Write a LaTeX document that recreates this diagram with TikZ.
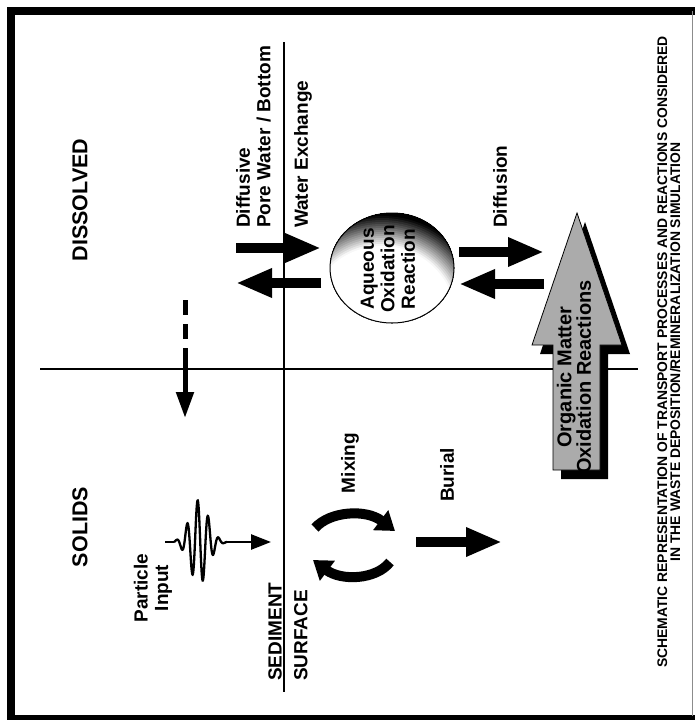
\documentclass[tikz,border=0pt]{standalone}
\usepackage{fontspec}
\newfontfamily\hv{Liberation Sans}
\usetikzlibrary{arrows.meta}
\begin{document}
\begin{tikzpicture}[x=1pt,y=-1pt,
  lbl/.style={font=\hv\bfseries\fontsize{19}{20.5}\selectfont, inner sep=0pt, rotate=90},
  biglbl/.style={font=\hv\bfseries\fontsize{21.5}{22}\selectfont, inner sep=0pt, rotate=90},
  captiontext/.style={font=\hv\bfseries\fontsize{13.9}{13}\selectfont, inner sep=0pt, rotate=90, align=center},
  fat/.style={line width=10pt, -{Triangle[length=36pt,width=27pt]}},
  rule/.style={line width=2.6pt}]
\useasboundingbox (0,0) rectangle (695,720);
\fill[white] (0,0) rectangle (695,720);
% frame
\draw[line width=8pt] (11,720) -- (11,11) -- (695,11);
\draw[line width=5pt] (11,717.5) -- (695,717.5);
\draw[line width=0.8pt, black!45] (692,11) -- (692,716);

% axes
\coordinate (vt) at (284,42); \coordinate (vb) at (284,692);
\coordinate (hl) at (40,369); \coordinate (hr) at (638,369);
\draw[rule] (vt) -- (vb);
\draw[rule] (hl) -- (hr);

% big arrow (organic matter)
\fill[black, shift={(8,9)}] (577,213) -- (622,345) -- (600,345) -- (600,470) -- (553,470) -- (553,345) -- (532,345) -- cycle;
\filldraw[fill=black!33, draw=black, line width=0.8pt] (577,213) -- (622,345) -- (600,345) -- (600,470) -- (553,470) -- (553,345) -- (532,345) -- cycle;

% sphere
\begin{scope}
\clip (392,268) ellipse [x radius=62pt, y radius=55pt];
\fill[white] (392,268) ellipse [x radius=62pt, y radius=55pt];
\foreach \i in {0,...,45}{
  \pgfmathsetmacro\rr{160-2*\i}
  \pgfmathsetmacro\cc{max(0,min(100,(\rr-75)*3.3))}
  \fill[black!\cc] (382,320) circle (\rr pt);
}
\end{scope}
\draw[line width=1pt] (392,268) ellipse [x radius=62pt, y radius=55pt];
\node[lbl, align=center] (aq) at (388,269) {Aqueous\\Oxidation\\Reaction};

% pore water arrows
\coordinate (p1s) at (236,248); \coordinate (p1e) at (321,248);
\coordinate (p2s) at (321,283); \coordinate (p2e) at (236,283);
\draw[fat] (p1s) -- (p1e);
\draw[fat] (p2s) -- (p2e);

% diffusion arrows
\coordinate (d1s) at (459,252); \coordinate (d1e) at (544,252);
\coordinate (d2s) at (544,284); \coordinate (d2e) at (459,284);
\draw[fat] (d1s) -- (d1e);
\draw[fat] (d2s) -- (d2e);

% burial arrow
\coordinate (b1) at (416,542); \coordinate (b2) at (502,542);
\draw[fat] (b1) -- (b2);

% dashed input arrow
\coordinate (da) at (185,300); \coordinate (db) at (185,362); \coordinate (dc) at (185,418);
\draw[line width=5pt, dash pattern=on 15pt off 9pt] (da) -- (db);
\draw[line width=5pt, -{Triangle[length=26pt,width=17pt]}] (db) -- (dc);

% particle input wave
\coordinate (w0) at (165,542); \coordinate (w1) at (174,542);
\coordinate (w2) at (227,542); \coordinate (w3) at (271,542);
\draw[line width=2.3pt] (w0) -- (w1);
\draw[line width=2.3pt] plot[domain=174:227, samples=260, smooth] (\x, {542 - 42*exp(-((\x-199)/13)*((\x-199)/13))*sin((\x-174)*34.3)});
\draw[line width=2.6pt, -{Triangle[length=20pt,width=15pt]}] (w2) -- (w3);

% mixing arrows
\coordinate (m1s) at (315,528); \coordinate (m1e) at (395,531);
\coordinate (m2s) at (390,562); \coordinate (m2e) at (313,560);
\draw[line width=10pt, -{Triangle[length=18pt,width=24pt]}] (m1s) .. controls (330,511) and (366,509) .. (m1e);
\draw[line width=10pt, -{Triangle[length=18pt,width=24pt]}] (m2s) .. controls (376,580) and (341,581) .. (m2e);

% labels
\node[biglbl] (dis) at (80,200) {DISSOLVED};
\node[biglbl] (sol) at (80,527) {SOLIDS};
\node[lbl, align=left, anchor=north west] (dpw) at (236,228) {Diffusive\\Pore Water / Bottom};
\node[lbl, anchor=north west] (we) at (294,228) {Water Exchange};
\node[lbl, anchor=north west] (dif) at (493,228) {Diffusion};
\node[lbl, align=center, font=\hv\bfseries\fontsize{20}{19.5}\selectfont] (om) at (574,377) {Organic Matter\\Oxidation Reactions};
\node[lbl, align=center] (pi) at (153,588) {Particle\\Input};
\node[lbl, anchor=south west] (sed) at (282,681) {SEDIMENT};
\node[lbl, anchor=north west] (sur) at (294,681) {SURFACE};
\node[lbl] (mix) at (350,463) {Mixing};
\node[lbl] (bur) at (447,475) {Burial};
\node[captiontext] (capt) at (669,352) {SCHEMATIC REPRESENTATION OF TRANSPORT PROCESSES AND REACTIONS CONSIDERED\\IN THE WASTE DEPOSITION/REMINERALIZATION SIMULATION};
\end{tikzpicture}
\end{document}
